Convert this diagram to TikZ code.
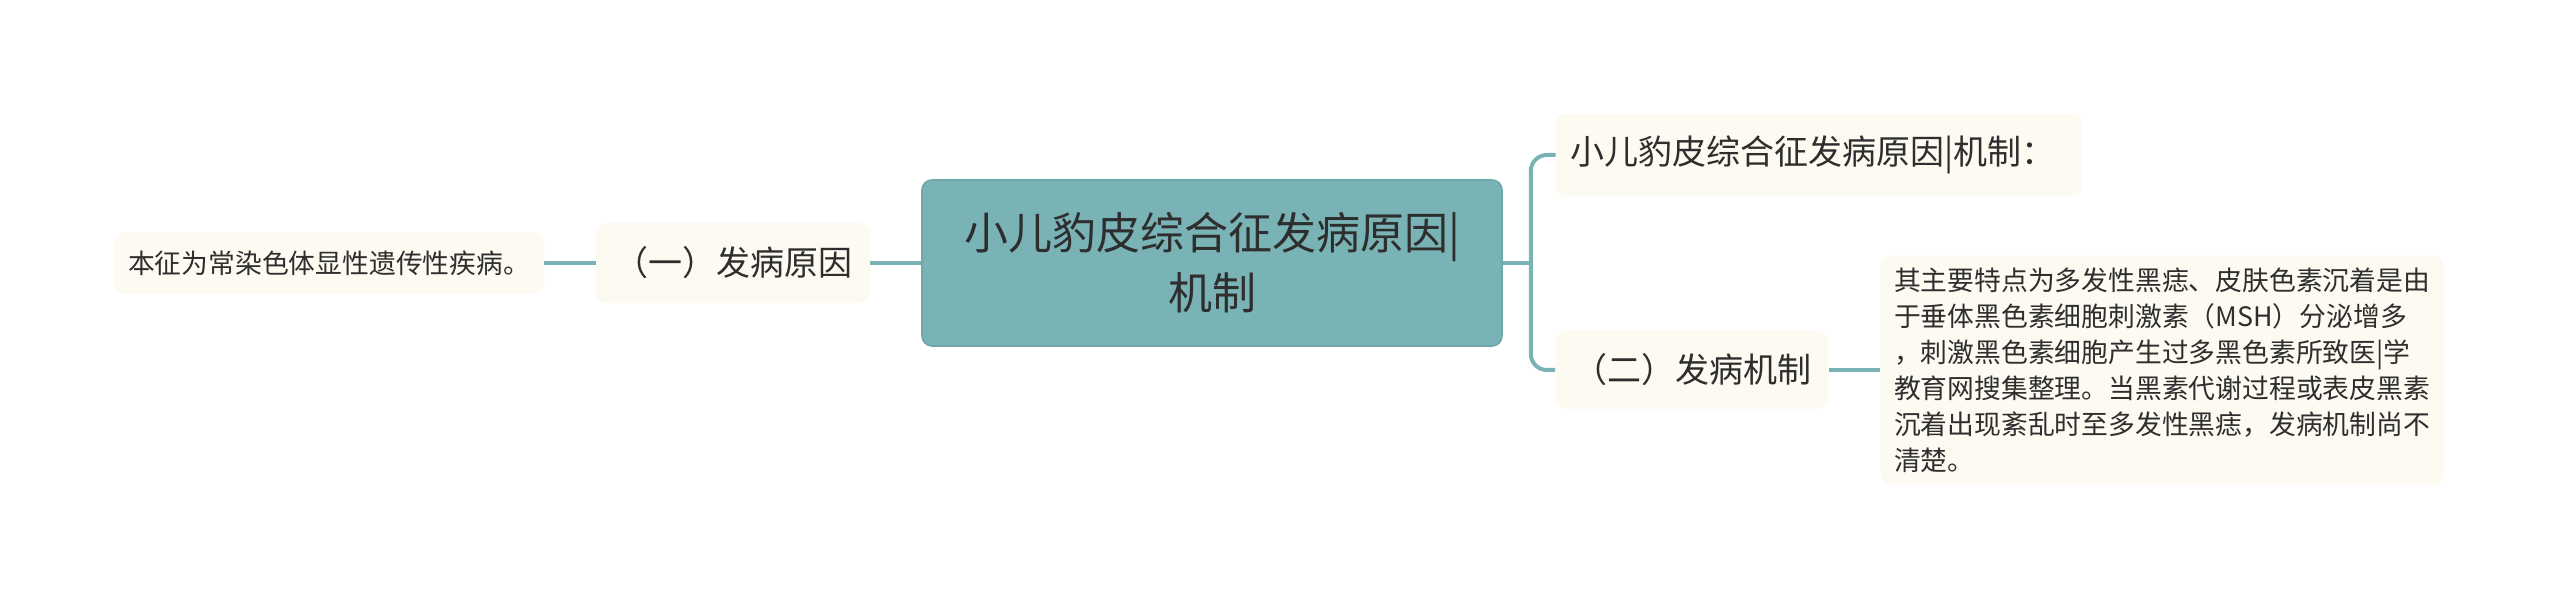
\documentclass[tikz,border=0pt]{standalone}
\usepackage{fontspec}
\setmainfont{Noto Sans CJK SC}
\usepackage{tikz}
\usetikzlibrary{positioning}

\definecolor{teal}{HTML}{7AB3B5}
\definecolor{tealedge}{HTML}{6FA8AA}
\definecolor{cream}{HTML}{FCFAF1}
\definecolor{ink}{HTML}{2E2E2E}

\tikzset{
  rootbox/.style={rectangle,rounded corners=5pt,fill=teal,draw=tealedge,line width=0.8pt,
    text=ink,font=\fontsize{22}{30}\selectfont,align=center,
    minimum width=290pt,minimum height=83pt,inner sep=0pt},
  topicbox/.style={rectangle,rounded corners=5pt,fill=cream,text=ink,
    font=\fontsize{17}{22}\selectfont,inner sep=0pt},
  leafbox/.style={rectangle,rounded corners=5pt,fill=cream,text=ink,
    font=\fontsize{13.4}{18}\selectfont,inner sep=0pt},
  link/.style={draw=teal,line width=2pt}
}

\begin{document}
\begin{tikzpicture}[x=0.5pt,y=0.5pt]
\useasboundingbox (0,0) rectangle (2560,603);

\node[rootbox] (root) at (1212,340) {小儿豹皮综合征发病原因|\\机制};

\node[topicbox,minimum width=137pt,minimum height=40pt] (cause) at (733,340) {（一）发病原因};
\node[leafbox,minimum width=215pt,minimum height=30.5pt] (causeleaf) at (329,340) {本征为常染色体显性遗传性疾病。};

\node[topicbox,minimum width=263pt,minimum height=41pt,align=left] (title) at (1819,448) {\hspace{2pt}小儿豹皮综合征发病原因|机制：\hspace{8pt}};
\node[topicbox,minimum width=136.5pt,minimum height=39pt] (mech) at (1692,233) {（二）发病机制};
\node[leafbox,minimum width=281.5pt,minimum height=114.5pt,align=left] (mechleaf) at (2162,233) {其主要特点为多发性黑痣、皮肤色素沉着是由\\
于垂体黑色素细胞刺激素（MSH）分泌增多\\
，刺激黑色素细胞产生过多黑色素所致医|学\\
教育网搜集整理。当黑素代谢过程或表皮黑素\\
沉着出现紊乱时至多发性黑痣，发病机制尚不\\
清楚。};

% left side
\draw[link] (root.west) -- (cause.east);
\draw[link] (cause.west) -- (causeleaf.east);

% right side
\draw[link] (root.east) -- ++(28,0) coordinate (fork);
\draw[link,rounded corners=8pt] (fork) |- (title.west);
\draw[link,rounded corners=8pt] (fork) |- (mech.west);
\draw[link] (mech.east) -- (mechleaf.west);
\end{tikzpicture}
\end{document}
